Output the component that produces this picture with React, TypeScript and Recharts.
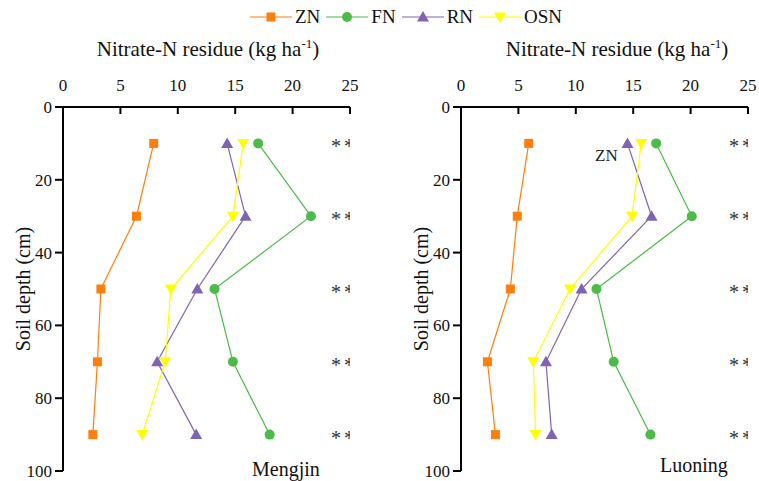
import React from 'react'
import { ScatterChart, Scatter, XAxis, YAxis } from 'recharts'

// soil depths (cm)
const depths = [10, 30, 50, 70, 90]

// Mengjin, nitrate-N residue (kg ha-1)
const mengjinZN = [7.9, 6.4, 3.3, 3.0, 2.6]
const mengjinFN = [17.0, 21.6, 13.2, 14.8, 18.0]
const mengjinRN = [14.3, 15.9, 11.7, 8.2, 11.6]
const mengjinOSN = [15.7, 14.8, 9.4, 8.9, 6.9]

// Luoning
const luoningZN = [5.9, 4.9, 4.3, 2.3, 3.0]
const luoningFN = [17.0, 20.1, 11.8, 13.3, 16.5]
const luoningRN = [14.5, 16.6, 10.5, 7.4, 7.9]
const luoningOSN = [15.7, 14.9, 9.5, 6.3, 6.5]

const sigLabels = ['**', '**', '**', '**', '**']
const STAR_X = 24.4

const xTicks = [0, 5, 10, 15, 20, 25]
const yTicks = [0, 20, 40, 60, 80, 100]

const FONT = 'Liberation Serif, serif'

const colors = {
	ZN: '#ff7f0e',
	FN: '#4cbb47',
	RN: '#8064b4',
	OSN: '#ffff00',
}

type Kind = 'ZN' | 'FN' | 'RN' | 'OSN'

const toRows = (vals: number[]) => depths.map((d, i) => ({ depth: d, v: vals[i] }))

const Marker = ({ kind, cx, cy }: { kind: Kind; cx: number; cy: number }) => {
	const c = colors[kind]
	if (kind === 'ZN') return <rect x={cx - 4.5} y={cy - 4.5} width={9} height={9} fill={c} />
	if (kind === 'FN') return <circle cx={cx} cy={cy} r={5} fill={c} />
	if (kind === 'RN')
		return <polygon points={`${cx},${cy - 6} ${cx - 6},${cy + 4.5} ${cx + 6},${cy + 4.5}`} fill={c} />
	return <polygon points={`${cx},${cy + 6} ${cx - 6},${cy - 4.5} ${cx + 6},${cy - 4.5}`} fill={c} />
}

const XTick = (props: any) => {
	const { x, y, payload } = props
	return (
		<g>
			<line x1={x} y1={y} x2={x} y2={y + 7} stroke='#000' strokeWidth={2} />
			<text x={x} y={y - 16} textAnchor='middle' fontSize={17} fontFamily={FONT} fill='#111'>
				{payload.value}
			</text>
		</g>
	)
}

const Panel = ({
	series,
	width,
	marginLeft,
	marginRight,
}: {
	series: Record<Kind, number[]>
	width: number
	marginLeft: number
	marginRight: number
}) => {
	const kinds: Kind[] = ['ZN', 'FN', 'RN', 'OSN']
	const stars = depths.map((d, i) => ({ depth: d, v: STAR_X, label: sigLabels[i] }))
	return (
		<ScatterChart
			width={width}
			height={481}
			style={{ fontFamily: FONT }}
			margin={{ top: 77, right: marginRight, bottom: 10, left: marginLeft }}>
			<XAxis
				type='number'
				dataKey='v'
				orientation='top'
				domain={[0, 25]}
				ticks={xTicks}
				height={30}
				tickSize={0}
				tickMargin={0}
				tickLine={false}
				axisLine={{ stroke: '#000', strokeWidth: 2 }}
				tick={<XTick />}
				allowDataOverflow
			/>
			<YAxis
				type='number'
				dataKey='depth'
				domain={[0, 100]}
				ticks={yTicks}
				reversed
				width={40}
				tickSize={8}
				tickMargin={3}
				tickLine={{ stroke: '#000', strokeWidth: 2 }}
				axisLine={{ stroke: '#000', strokeWidth: 2 }}
				tick={{ fill: '#111', fontSize: 17, fontFamily: FONT }}
			/>
			{kinds.map((k) => (
				<Scatter
					key={k}
					name={k}
					data={toRows(series[k])}
					line={{ stroke: colors[k], strokeWidth: 1.2 }}
					shape={(p: any) => <Marker kind={k} cx={p.cx} cy={p.cy} />}
					isAnimationActive={false}
				/>
			))}
			<Scatter
				data={stars}
				isAnimationActive={false}
				shape={(p: any) => (
					<text
						x={p.cx + 1}
						y={p.cy + 10}
						textAnchor='middle'
						fontSize={20}
						letterSpacing={3}
						fontFamily={FONT}
						fill='#333'>
						{p.payload.label}
					</text>
				)}
			/>
		</ScatterChart>
	)
}

const LegendItem = ({ kind }: { kind: Kind }) => (
	<div style={{ display: 'flex', alignItems: 'center', marginRight: 6 }}>
		<svg width={42} height={16}>
			<line x1={0} y1={8} x2={42} y2={8} stroke={colors[kind]} strokeWidth={1.2} />
			<Marker kind={kind} cx={21} cy={8} />
		</svg>
		<span style={{ marginLeft: 3 }}>{kind}</span>
	</div>
)

const titleStyle: React.CSSProperties = {
	position: 'absolute',
	top: 36,
	fontSize: 21,
	whiteSpace: 'nowrap',
	transform: 'translateX(-50%)',
}

const rotated: React.CSSProperties = {
	position: 'absolute',
	top: 289,
	fontSize: 20,
	whiteSpace: 'nowrap',
	transform: 'translate(-50%, -50%) rotate(-90deg)',
}

const App = () => {
	return (
		<div
			style={{
				position: 'absolute',
				left: 0,
				top: 0,
				width: 759,
				height: 481,
				background: '#fff',
				fontFamily: FONT,
				color: '#111',
				overflow: 'hidden',
			}}>
			<div
				style={{
					position: 'absolute',
					top: 6,
					left: 250,
					display: 'flex',
					fontSize: 19,
				}}>
				{(['ZN', 'FN', 'RN', 'OSN'] as Kind[]).map((k) => (
					<LegendItem key={k} kind={k} />
				))}
			</div>

			<div style={{ ...titleStyle, left: 208 }}>
				Nitrate-N residue (kg ha<sup style={{ fontSize: 13 }}>-1</sup>)
			</div>
			<div style={{ ...titleStyle, left: 617 }}>
				Nitrate-N residue (kg ha<sup style={{ fontSize: 13 }}>-1</sup>)
			</div>

			<div style={{ position: 'absolute', left: 0, top: 0 }}>
				<Panel
					series={{ ZN: mengjinZN, FN: mengjinFN, RN: mengjinRN, OSN: mengjinOSN }}
					width={380}
					marginLeft={23}
					marginRight={30}
				/>
			</div>
			<div style={{ position: 'absolute', left: 380, top: 0 }}>
				<Panel
					series={{ ZN: luoningZN, FN: luoningFN, RN: luoningRN, OSN: luoningOSN }}
					width={379}
					marginLeft={41}
					marginRight={11}
				/>
			</div>

			<div style={{ ...rotated, left: 23 }}>Soil depth (cm)</div>
			<div style={{ ...rotated, left: 421 }}>Soil depth (cm)</div>

			<div style={{ position: 'absolute', left: 252, top: 458, fontSize: 20 }}>Mengjin</div>
			<div style={{ position: 'absolute', left: 660, top: 454, fontSize: 20 }}>Luoning</div>
			<div style={{ position: 'absolute', left: 595, top: 146, fontSize: 17, color: '#222' }}>ZN</div>
		</div>
	)
}

export default App
